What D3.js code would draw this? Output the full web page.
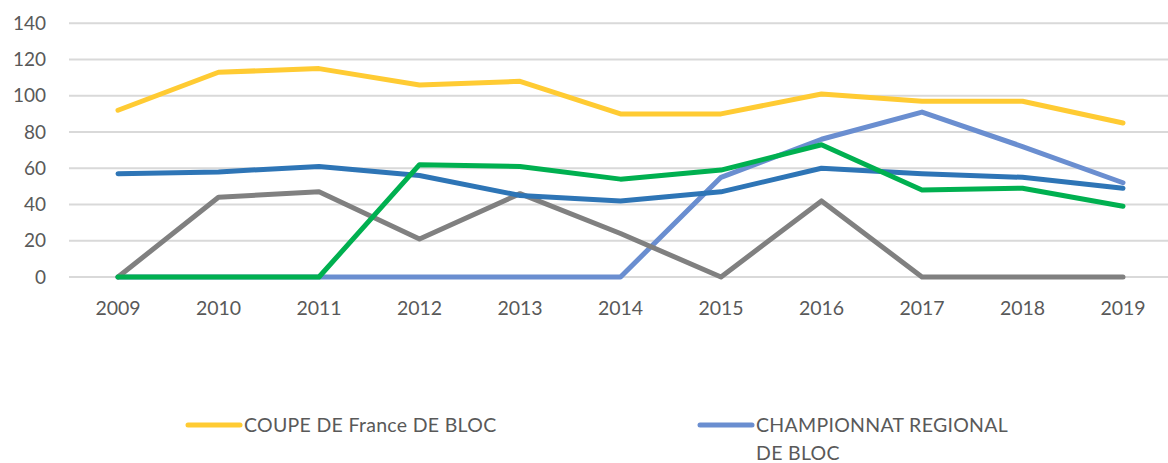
<!DOCTYPE html>
<html>
<head>
<meta charset="utf-8">
<script src="https://cdn.jsdelivr.net/npm/d3@7"></script>
<style>
 body { margin: 0; background: #fff; }
 svg text { font-family: Lato, "Open Sans", sans-serif; fill: #595959; }
</style>
</head>
<body>
<svg id="chart" width="1168" height="463"></svg>
<script>
var years = ["2009","2010","2011","2012","2013","2014","2015","2016","2017","2018","2019"];
var yTicks = [0, 20, 40, 60, 80, 100, 120, 140];

var coupeFrance   = [92, 113, 115, 106, 108, 90, 90, 101, 97, 97, 85];
var champRegional = [0, 0, 0, 0, 0, 0, 55, 76, 91, 72, 52];
var greySeries    = [0, 44, 47, 21, 46, 24, 0, 42, 0, 0, 0];
var darkBlue      = [57, 58, 61, 56, 45, 42, 47, 60, 57, 55, 49];
var greenSeries   = [0, 0, 0, 62, 61, 54, 59, 73, 48, 49, 39];

// drawing order, bottom first
var series = [
  { name: "CHAMPIONNAT REGIONAL DE BLOC", values: champRegional, color: "#6A8ED0" },
  { name: "s3", values: greySeries, color: "#808080" },
  { name: "s4", values: darkBlue, color: "#2E75B6" },
  { name: "s5", values: greenSeries, color: "#00B050" },
  { name: "COUPE DE France DE BLOC", values: coupeFrance, color: "#FFCB33" }
];

var svg = d3.select('#chart');

var x = d3.scalePoint().domain(years).range([118, 1123]);
var y = d3.scaleLinear().domain([0, 140]).range([277, 23.3]);

// gridlines
svg.append('g')
  .selectAll('line').data(yTicks).enter().append('line')
    .attr('x1', 69).attr('x2', 1168)
    .attr('y1', function(d) { return y(d); })
    .attr('y2', function(d) { return y(d); })
    .style('stroke', '#D9D9D9').style('stroke-width', 2);

// y labels
svg.append('g')
  .selectAll('text').data(yTicks).enter().append('text')
    .attr('x', 46)
    .attr('y', function(d) { return y(d); })
    .attr('dy', '0.35em')
    .attr('text-anchor', 'end')
    .style('font-size', '19px')
    .text(function(d) { return d; });

// x labels
svg.append('g')
  .selectAll('text').data(years).enter().append('text')
    .attr('x', function(d) { return x(d); })
    .attr('y', 308)
    .attr('dy', '0.35em')
    .attr('text-anchor', 'middle')
    .style('font-size', '19.5px')
    .text(function(d) { return d; });

var line = d3.line()
  .x(function(d, i) { return x(years[i]); })
  .y(function(d) { return y(d); });

svg.append('g')
  .selectAll('path').data(series).enter().append('path')
    .attr('d', function(s) { return line(s.values); })
    .style('fill', 'none')
    .style('stroke', function(s) { return s.color; })
    .style('stroke-width', 5)
    .style('stroke-linecap', 'round')
    .style('stroke-linejoin', 'round');

// legend (only the two visible entries)
var legendItems = [
  { lines: ["COUPE DE France DE BLOC"], color: "#FFCB33", x: 188 },
  { lines: ["CHAMPIONNAT REGIONAL", "DE BLOC"], color: "#6A8ED0", x: 700 }
];
var lg = svg.append('g').selectAll('g').data(legendItems).enter().append('g');
lg.append('line')
  .attr('x1', function(d) { return d.x; })
  .attr('x2', function(d) { return d.x + 52; })
  .attr('y1', 425).attr('y2', 425)
  .style('stroke', function(d) { return d.color; })
  .style('stroke-width', 5)
  .style('stroke-linecap', 'round');
lg.each(function(d) {
  var t = d3.select(this).append('text')
    .attr('x', d.x + 56)
    .attr('y', 425)
    .style('font-size', '19.5px')
    .style('letter-spacing', '0.3px');
  d.lines.forEach(function(l, i) {
    t.append('tspan').attr('x', d.x + 56).attr('dy', i === 0 ? '0.35em' : '28px').text(l);
  });
});
</script>
</body>
</html>
